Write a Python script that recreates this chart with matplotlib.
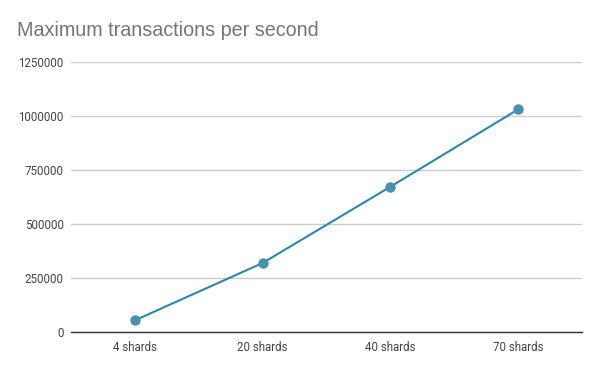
import matplotlib
matplotlib.use('Agg')
import matplotlib.pyplot as plt

# Data
categories = ['4 shards', '20 shards', '40 shards', '70 shards']
tps = [55600, 321000, 674000, 1032000]
y_ticks = [0, 250000, 500000, 750000, 1000000, 1250000]

fig = plt.figure(figsize=(6, 3.71), dpi=100)
ax = fig.add_axes([0.118, 0.104, 0.852, 0.728])

x = range(len(categories))
ax.plot(x, tps, color='#2e86a8', linewidth=1.5, marker='o', markersize=6.5,
        markerfacecolor='#4a90ae', markeredgecolor='#4a90ae', zorder=3)

ax.set_xlim(-0.5, len(categories) - 0.5)
ax.set_ylim(0, 1250000)
ax.set_xticks(list(x))
ax.set_xticklabels(categories)
ax.set_yticks(y_ticks)
ax.set_yticklabels([str(v) for v in y_ticks])

ax.grid(axis='y', color='#cccccc', linewidth=1)
ax.set_axisbelow(True)
for s in ['top', 'right', 'left']:
    ax.spines[s].set_visible(False)
ax.spines['bottom'].set_color('#333333')
ax.spines['bottom'].set_linewidth(1)
ax.tick_params(axis='both', length=0, labelsize=8.3, labelcolor='#444444')
ax.tick_params(axis='y', pad=5)
ax.tick_params(axis='x', pad=6)
for lab in ax.get_xticklabels() + ax.get_yticklabels():
    lab.set_fontfamily('Roboto')

fig.text(0.028, 0.918, 'Maximum transactions per second', fontsize=14.2,
         color='#757575', fontfamily='Liberation Sans', va='center')

fig.savefig('out.png', dpi=100)
